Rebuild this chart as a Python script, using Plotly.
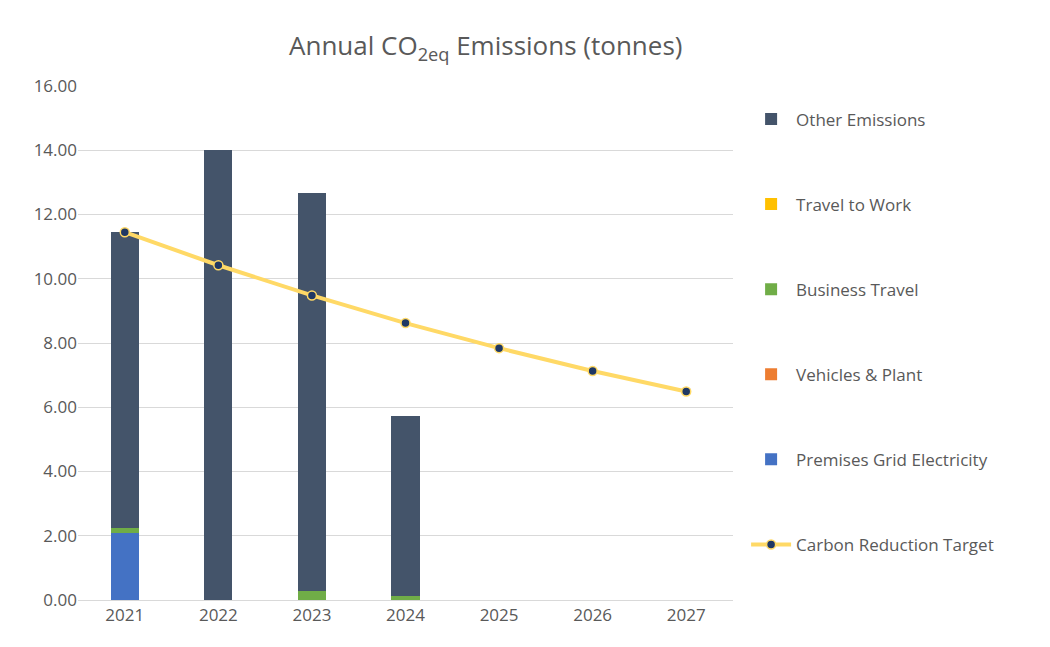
import plotly.graph_objects as go

years = ["2021", "2022", "2023", "2024", "2025", "2026", "2027"]
premises = [2.08, 0, 0, 0, None, None, None]
vehicles = [0, 0, 0, 0, None, None, None]
business = [0.16, 0, 0.28, 0.13, None, None, None]
travel = [0, 0, 0, 0, None, None, None]
other = [9.21, 14.0, 12.39, 5.59, None, None, None]
target = [11.45, 10.42, 9.48, 8.62, 7.84, 7.13, 6.49]

fig = go.Figure()
series = [("Premises Grid Electricity", premises, "#4472C4", 5),
          ("Vehicles & Plant", vehicles, "#ED7D31", 4),
          ("Business Travel", business, "#70AD47", 3),
          ("Travel to Work", travel, "#FFC000", 2),
          ("Other Emissions", other, "#44546A", 1)]
for name, vals, col, rank in series:
    fig.add_bar(x=years, y=vals, name=name, marker_color=col, marker_line_width=0,
                legendrank=rank, legendgroup=name, width=0.3)
fig.add_scatter(x=years, y=target, name="Carbon Reduction Target", mode="lines+markers",
                line=dict(color="#FFD966", width=4),
                marker=dict(color="#1F3864", size=9, line=dict(color="#FFD966", width=1.5)),
                legendrank=6, legendgroup="t")

fig.update_layout(
    barmode="stack", width=1050, height=647,
    paper_bgcolor="white", plot_bgcolor="white",
    font=dict(family="Open Sans", color="#595959", size=17),
    title=dict(text="Annual CO<sub>2eq</sub> Emissions (tonnes)", x=0.455, y=0.955,
               font=dict(size=26, color="#595959")),
    margin=dict(l=70, r=325, t=78, b=55),
    yaxis=dict(range=[0, 16], dtick=2, tickformat=".2f", gridcolor="#D9D9D9",
               showline=False, zeroline=False, ticks=""),
    xaxis=dict(showline=True, linecolor="#D9D9D9", ticks=""),
    legend=dict(x=1.02, y=0.97, yanchor="top", tracegroupgap=60, font=dict(size=17),
                itemwidth=40),
)
fig.write_html("out.html")
